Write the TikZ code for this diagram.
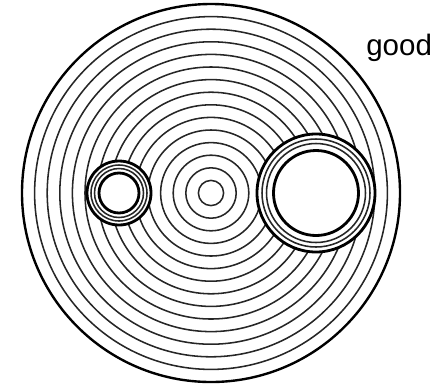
\documentclass[tikz,border=0pt]{standalone}
\usepackage{fontspec}
\setmainfont{Liberation Sans}
\usetikzlibrary{positioning}
\tikzset{
  ring/.style={draw=black!85, line width=1.1pt},
  thickring/.style={draw=black, line width=2pt},
  rim/.style={draw=black, line width=1.7pt},
  hole/.style={fill=white},
  label/.style={font=\fontsize{21}{24}\selectfont, text=black, inner sep=0pt, anchor=base west},
}

\begin{document}
\begin{tikzpicture}[x=0.25mm, y=-0.25mm]
  \useasboundingbox (0,0) rectangle (442,386);

  % Centres
  \coordinate (centre) at (211,193);
  \coordinate (small) at (119,193);
  \coordinate (big) at (316,193);

  % Background rings
  \foreach \k in {1,...,14}
    \draw[ring] (centre) circle[radius=12.6*\k];
  \draw[rim] (centre) circle[radius=189];

  % Small inclusion
  \fill[hole] (small) circle[radius=32];
  \draw[thickring] (small) circle[radius=32];
  \draw[ring] (small) circle[radius=28];
  \draw[ring] (small) circle[radius=24.5];
  \draw[thickring] (small) circle[radius=20];

  % Big inclusion
  \fill[hole] (big) circle[radius=59];
  \draw[thickring] (big) circle[radius=59];
  \draw[ring] (big) circle[radius=54];
  \draw[ring] (big) circle[radius=49.5];
  \draw[thickring] (big) circle[radius=42.5];

  % Label
  \node[label] (good) at (366,55) {good};

\end{tikzpicture}
\end{document}
